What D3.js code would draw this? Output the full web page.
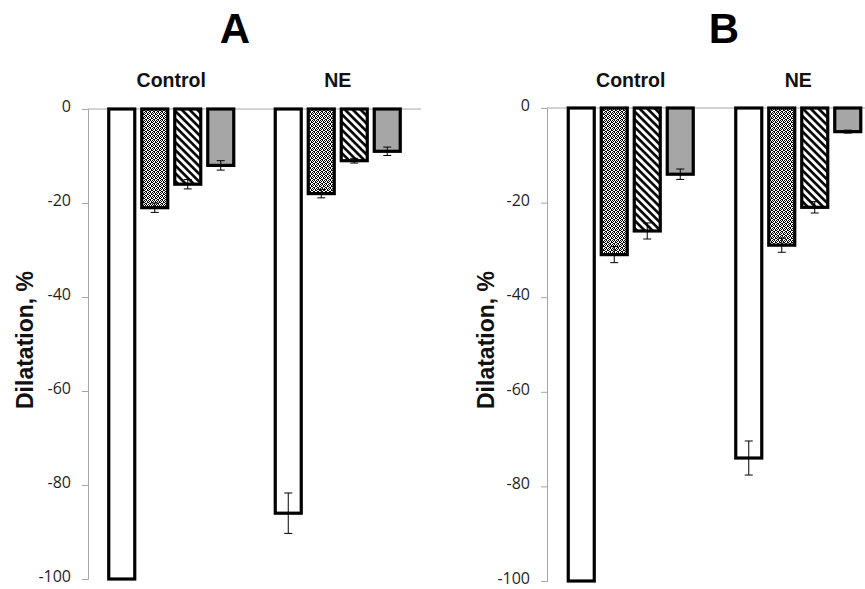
<!DOCTYPE html>
<html>
<head>
<meta charset="utf-8">
<script src="https://cdn.jsdelivr.net/npm/d3@7"></script>
<style>
  body { margin: 0; background: #fff; }
  svg { display: block; }
  .tick text { font-family: "Open Sans", sans-serif; font-size: 16px; fill: #1f1f1f; }
</style>
</head>
<body>
<svg id="chart" width="865" height="589"></svg>
<script>
// data
const groups = ['Control', 'NE'];
const series = ['plain', 'dotted', 'hatched', 'gray'];
const yTicks = [0, -20, -40, -60, -80, -100];

const valuesA = [[-100, -21, -16, -12], [-86, -18, -11, -9]];
const errorsA = [[0.1, 1.0, 1.0, 1.0], [4.3, 0.9, 0.5, 0.9]];
const valuesB = [[-100, -31, -26, -14], [-74, -29, -21, -5]];
const errorsB = [[0.1, 1.7, 1.7, 1.1], [3.6, 1.5, 1.2, 0.3]];

const svg = d3.select('#chart');
const defs = svg.append('defs');

// dotted fill
const dots = defs.append('pattern')
    .attr('id', 'dots')
    .attr('patternUnits', 'userSpaceOnUse')
    .attr('width', 4).attr('height', 4);
dots.append('rect').attr('width', 4).attr('height', 4).attr('fill', '#fff');
[[0, 0], [2, 0], [1, 1], [3, 1], [0, 2], [3, 2], [1, 3], [2, 3]].forEach(p => {
    dots.append('rect').attr('x', p[0]).attr('y', p[1])
        .attr('width', 1).attr('height', 1).attr('fill', '#000');
});

// diagonal hatch fill
const hatch = defs.append('pattern')
    .attr('id', 'hatch')
    .attr('patternUnits', 'userSpaceOnUse')
    .attr('width', 5.5).attr('height', 5.5)
    .attr('patternTransform', 'rotate(-45)');
hatch.append('rect').attr('width', 5.5).attr('height', 5.5).attr('fill', '#fff');
hatch.append('line').attr('x1', 1.4).attr('x2', 1.4).attr('y1', 0).attr('y2', 5.5)
    .attr('stroke', '#000').attr('stroke-width', 2.6);

const fills = {plain: '#fff', dotted: 'url(#dots)', hatched: 'url(#hatch)', gray: '#a6a6a6'};

const panels = [
    {title: 'A', values: valuesA, errors: errorsA, left: 88, right: 421, top: 109, bottom: 579, titleX: 235, labelX: 33},
    {title: 'B', values: valuesB, errors: errorsB, left: 547, right: 882, top: 108, bottom: 581, titleX: 724, labelX: 494}
];

panels.forEach(p => {
    const g = svg.append('g');

    const y = d3.scaleLinear().domain([0, -100]).range([p.top, p.bottom]);
    const x0 = d3.scaleBand().domain(groups).range([p.left, p.right]);
    const x1 = d3.scaleBand().domain(series).range([-62.5, 62.5]).paddingInner(0.212);

    // title
    g.append('text')
        .attr('x', p.titleX).attr('y', 43)
        .attr('text-anchor', 'middle')
        .attr('font-family', 'Liberation Sans, Arial, sans-serif')
        .attr('font-weight', 'bold').attr('font-size', 42)
        .text(p.title);

    // group labels on top
    g.selectAll('.grp').data(groups).enter().append('text')
        .attr('x', d => x0(d) + x0.bandwidth() / 2)
        .attr('y', 87)
        .attr('text-anchor', 'middle')
        .attr('font-family', 'Liberation Sans, Arial, sans-serif')
        .attr('font-weight', 'bold').attr('font-size', 19.5)
        .attr('fill', '#111')
        .text(d => d);

    // y axis
    const yAxis = g.append('g')
        .attr('transform', `translate(${p.left},0)`)
        .call(d3.axisLeft(y).tickValues(yTicks).tickSize(6).tickPadding(11).tickFormat(d => String(d)));
    yAxis.select('.domain').attr('stroke', '#a6a6a6');
    yAxis.selectAll('.tick line').attr('stroke', '#a6a6a6');
    yAxis.selectAll('.tick text').attr('dy', '0.16em');

    // zero line
    g.append('line')
        .attr('x1', p.left).attr('x2', p.right)
        .attr('y1', y(0)).attr('y2', y(0))
        .attr('stroke', '#a6a6a6').attr('stroke-width', 1);

    // axis title
    g.append('text')
        .attr('transform', `translate(${p.labelX},340) rotate(-90)`)
        .attr('text-anchor', 'middle')
        .attr('font-family', 'Liberation Sans, Arial, sans-serif')
        .attr('font-weight', 'bold').attr('font-size', 23)
        .attr('fill', '#111')
        .text('Dilatation, %');

    // bars
    const rows = [];
    groups.forEach((grp, i) => {
        series.forEach((s, j) => {
            rows.push({grp: grp, s: s, v: p.values[i][j], e: p.errors[i][j]});
        });
    });

    const cx = d => x0(d.grp) + x0.bandwidth() / 2 + x1(d.s);

    g.selectAll('.bar').data(rows).enter().append('rect')
        .attr('x', d => cx(d))
        .attr('y', y(0))
        .attr('width', x1.bandwidth())
        .attr('height', d => y(d.v) - y(0))
        .attr('fill', d => fills[d.s])
        .attr('stroke', '#000')
        .attr('stroke-width', 3.2);

    // error bars
    const eb = g.selectAll('.err').data(rows).enter().append('g')
        .attr('transform', d => `translate(${cx(d) + x1.bandwidth() / 2},0)`);
    eb.append('line')
        .attr('y1', d => y(d.v + d.e)).attr('y2', d => y(d.v - d.e))
        .attr('stroke', '#000').attr('stroke-width', 1);
    eb.append('line')
        .attr('x1', -4).attr('x2', 4)
        .attr('y1', d => y(d.v + d.e)).attr('y2', d => y(d.v + d.e))
        .attr('stroke', '#000').attr('stroke-width', 1);
    eb.append('line')
        .attr('x1', -4).attr('x2', 4)
        .attr('y1', d => y(d.v - d.e)).attr('y2', d => y(d.v - d.e))
        .attr('stroke', '#000').attr('stroke-width', 1);
});
</script>
</body>
</html>
